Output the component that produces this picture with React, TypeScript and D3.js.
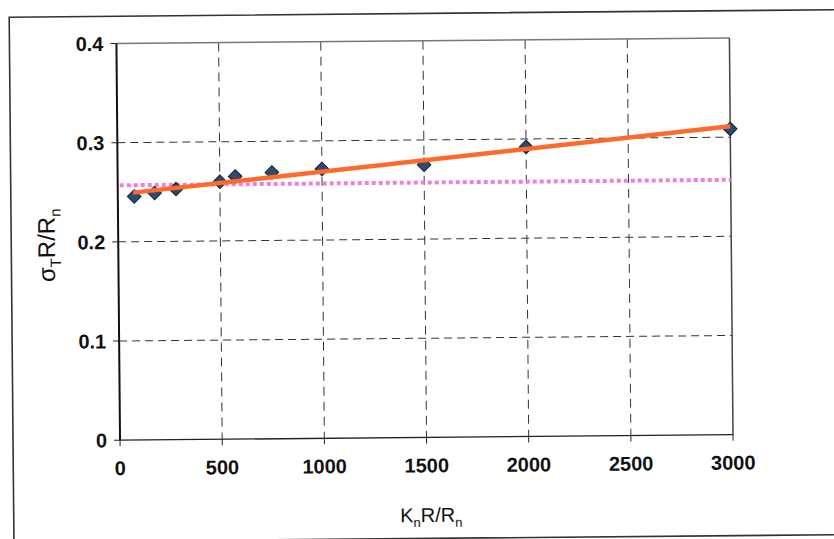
import React from "react";
import * as d3 from "d3";

const xValues = [80, 180, 285, 500, 575, 755, 1000, 1500, 2000, 3000];
const yValues = [0.2456, 0.2489, 0.2527, 0.2597, 0.2649, 0.2686, 0.2716, 0.275, 0.292, 0.3083];
const fitLineX = [75, 3000];
const fitLineY = [0.2495, 0.311];
const constLineX = [10, 3000];
const constLineY = [0.257, 0.257];
const xTicks = [0, 500, 1000, 1500, 2000, 2500, 3000];
const yTicks = [0, 0.1, 0.2, 0.3, 0.4];

const W = 834;
const H = 539;
const left = 118.5;
const right = 731.5;
const top = 40.8;
const bottom = 437.5;

export default function App() {
  const x = d3.scaleLinear().domain([0, 3000]).range([left, right]);
  const y = d3.scaleLinear().domain([0, 0.4]).range([bottom, top]);
  const line = d3
    .line<[number, number]>()
    .x((d) => x(d[0]))
    .y((d) => y(d[1]));
  const fitPts: [number, number][] = fitLineX.map((v, i) => [v, fitLineY[i]]);
  const constPts: [number, number][] = constLineX.map((v, i) => [v, constLineY[i]]);
  const font = "'Liberation Sans', Arial, sans-serif";
  const r = 6.8;

  return (
    <svg
      width={W}
      height={H}
      style={{ position: "absolute", left: 0, top: 0, background: "#fff" }}
    >
      <rect x={0} y={0} width={W} height={H} fill="#fff" />
      <g transform="rotate(-0.52, 417, 270)">
        <rect x={11.5} y={13.5} width={880} height={525} fill="none" stroke="#333" strokeWidth={1.6} />
        {yTicks
          .filter((t) => t > 0 && t < 0.4)
          .map((t) => (
            <line
              key={"gy" + t}
              x1={left}
              x2={right}
              y1={y(t)}
              y2={y(t)}
              stroke="#333"
              strokeWidth={1}
              strokeDasharray="8,5"
            />
          ))}
        {xTicks
          .filter((t) => t > 0 && t < 3000)
          .map((t) => (
            <line
              key={"gx" + t}
              x1={x(t)}
              x2={x(t)}
              y1={top}
              y2={bottom}
              stroke="#333"
              strokeWidth={1}
              strokeDasharray="9,6"
            />
          ))}
        <line x1={left} x2={right} y1={top} y2={top} stroke="#777" strokeWidth={1.5} />
        <line x1={right} x2={right} y1={top} y2={bottom} stroke="#444" strokeWidth={1.5} />
        <line x1={left} x2={right} y1={bottom} y2={bottom} stroke="#222" strokeWidth={1.3} />
        <line x1={left} x2={left} y1={top} y2={bottom} stroke="#111" strokeWidth={2} />
        {yTicks.map((t) => (
          <g key={"ty" + t}>
            <line x1={left - 6} x2={left} y1={y(t)} y2={y(t)} stroke="#222" strokeWidth={1} />
            <text
              x={left - 13}
              y={y(t)}
              dy="0.36em"
              textAnchor="end"
              fontFamily={font}
              fontWeight="bold"
              fontSize={20}
              fill="#111"
            >
              {t === 0 ? "0" : t.toFixed(1)}
            </text>
          </g>
        ))}
        {xTicks.map((t) => (
          <g key={"tx" + t}>
            <line x1={x(t)} x2={x(t)} y1={bottom} y2={bottom + 6} stroke="#222" strokeWidth={1} />
            <text
              x={x(t)}
              y={bottom + 35}
              textAnchor="middle"
              fontFamily={font}
              fontWeight="bold"
              fontSize={20}
              fill="#111"
            >
              {t}
            </text>
          </g>
        ))}
        <path
          d={line(constPts) || ""}
          fill="none"
          stroke="#ee80d8"
          strokeWidth={4}
          strokeDasharray="4,3"
        />
        {xValues.map((v, i) => {
          const cx = x(v);
          const cy = y(yValues[i]);
          return (
            <path
              key={"m" + i}
              d={`M${cx},${cy - r}L${cx + r},${cy}L${cx},${cy + r}L${cx - r},${cy}Z`}
              fill="#2d4b70"
              stroke="#14202e"
              strokeWidth={1}
            />
          );
        })}
        <path d={line(fitPts) || ""} fill="none" stroke="#ff6a2c" strokeWidth={4.5} />
        <text
          x={429}
          y={522}
          textAnchor="middle"
          fontFamily={font}
          fontSize={20}
          fill="#111"
        >
          K<tspan fontSize={13} dy={5}>n</tspan>
          <tspan dy={-5}>R/R</tspan>
          <tspan fontSize={13} dy={5}>n</tspan>
        </text>
        <text
          transform={`translate(55, 242) rotate(-90)`}
          textAnchor="middle"
          fontFamily={font}
          fontSize={24}
          fill="#111"
        >
          σ<tspan fontSize={15} dy={6}>T</tspan>
          <tspan dy={-6}>R/R</tspan>
          <tspan fontSize={15} dy={6}>n</tspan>
        </text>
      </g>
    </svg>
  );
}
